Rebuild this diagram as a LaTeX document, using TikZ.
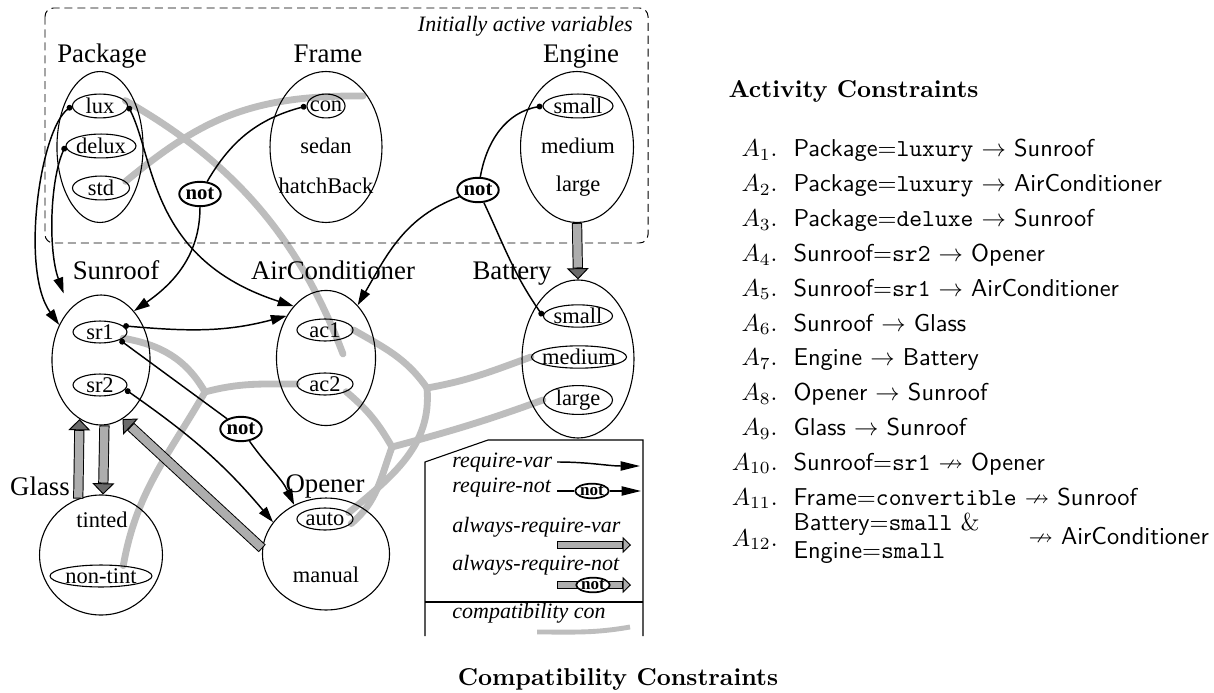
\documentclass[tikz,border=0pt]{standalone}
\usepackage{amssymb}
\usepackage{fontspec}
\newfontfamily\tms{Liberation Serif}
\usetikzlibrary{shapes.geometric,arrows.meta}

\definecolor{compatgray}{gray}{0.74}
\definecolor{shaftgray}{gray}{0.68}
\definecolor{headgray}{gray}{0.42}

\pgfdeclarelayer{paper}
\pgfdeclarelayer{under}
\pgfsetlayers{paper,under,main}

\tikzset{
  var/.style={draw, ellipse, line width=0.45pt, inner sep=0pt},
  val/.style={draw, ellipse, line width=0.45pt, inner xsep=-1.5pt, inner ysep=0pt,
    minimum height=9pt, font=\tms\fontsize{9.2}{10}\selectfont},
  plainval/.style={inner sep=0pt, font=\tms\fontsize{9.2}{10}\selectfont},
  varname/.style={anchor=base, inner sep=0pt, font=\tms\fontsize{11}{12}\selectfont},
  notnode/.style={draw, ellipse, line width=0.8pt, inner sep=0pt, fill=white,
    minimum width=17pt, minimum height=10pt, font=\tms\bfseries\fontsize{8.5}{9}\selectfont},
  lnot/.style={notnode, line width=0.7pt, minimum width=13.5pt, minimum height=6pt,
    font=\tms\bfseries\fontsize{7}{8}\selectfont},
  legend/.style={anchor=base west, inner sep=0pt, font=\tms\itshape\fontsize{9}{10}\selectfont},
  constr/.style={anchor=base west, inner sep=0pt, font=\sffamily},
  constrno/.style={anchor=base east, inner sep=0pt},
  % require-var connectors
  reqvar/.style={line width=0.6pt, {Circle[length=2.4pt]}-{Triangle[length=6.5pt,width=4pt]}},
  reqin/.style={line width=0.6pt, {Circle[length=2.4pt]}-},
  reqout/.style={line width=0.6pt, -{Triangle[length=6.5pt,width=4pt]}},
  lgarrow/.style={line width=0.6pt, -{Triangle[length=8pt,width=3.8pt]}},
  % compatibility constraints
  compat/.style={draw=compatgray, line width=2.8pt, line cap=round},
  % always-require arrows
  fatback/.style={draw=black, line width=4.2pt,
    -{Triangle[length=4.6pt,width=9pt,fill=headgray,line width=0.4pt]}},
  fatfill/.style={draw=shaftgray, line width=3.4pt, shorten >=4.9pt, shorten <=0.4pt},
  smallback/.style={draw=black, line width=3pt,
    -{Triangle[length=3.4pt,width=6.6pt,fill=shaftgray,line width=0.4pt]}},
  smallfill/.style={draw=shaftgray, line width=2.2pt, shorten >=3.7pt, shorten <=0.4pt},
}

\newcommand{\fatline}[3][fat]{%
  \draw[#1back] (#2) -- (#3);
  \draw[#1fill] (#2) -- (#3);
}

\begin{document}
\begin{tikzpicture}[x=0.41pt, y=-0.41pt]
  \begin{pgfonlayer}{paper}
    \path[fill=white] (0,0) rectangle (1214,692);
  \end{pgfonlayer}

  % initially active variables
  \draw[dash pattern=on 3.3pt off 2pt, line width=0.4pt, rounded corners=3.5pt]
    (45,8) rectangle (648,243);
  \node[legend, anchor=base east] (initial) at (633,32) {Initially active variables};

  % variables
  \node[varname] (packagelbl) at (102,63) {Package};
  \node[var, minimum width=35.3pt, minimum height=61.9pt] (package) at (100,147) {};
  \node[val, minimum width=22.6pt, minimum height=9.8pt] (lux) at (100,106) {lux};
  \node[val, minimum width=28.7pt, minimum height=9.8pt] (delux) at (101,146) {delux};
  \node[val, minimum width=23.4pt, minimum height=9.8pt] (std) at (101,188) {std};

  \node[varname] (framelbl) at (328,63) {Frame};
  \node[var, minimum width=45.9pt, minimum height=61.9pt] (frame) at (326,147) {};
  \node[val, minimum width=15.6pt, minimum height=9.8pt] (con) at (326,106) {con};
  \node[plainval] (sedan) at (326,146) {sedan};
  \node[plainval] (hatchback) at (326,186) {hatchBack};

  \node[varname] (enginelbl) at (581,63) {Engine};
  \node[var, minimum width=46.3pt, minimum height=61.9pt] (engine) at (577,147) {};
  \node[val, minimum width=28.7pt, minimum height=9.8pt] (esmall) at (578,106) {small};
  \node[plainval] (emedium) at (578,146) {medium};
  \node[plainval] (elarge) at (578,186) {large};

  \node[varname] (sunrooflbl) at (116,280) {Sunroof};
  \node[var, minimum width=40.2pt, minimum height=53.3pt] (sunroof) at (101,360) {};
  \node[val, minimum width=22.1pt] (sr1) at (100,332) {sr1};
  \node[val, minimum width=22.1pt] (sr2) at (100,385) {sr2};

  \node[varname] (aircondlbl) at (333,280) {AirConditioner};
  \node[var, minimum width=40.6pt, minimum height=55.4pt] (aircond) at (326,358) {};
  \node[val, minimum width=23pt] (ac1) at (325,330) {ac1};
  \node[val, minimum width=23pt] (ac2) at (325,384) {ac2};

  \node[varname] (batterylbl) at (512,280) {Battery};
  \node[var, minimum width=45.9pt, minimum height=64.8pt] (battery) at (578,359) {};
  \node[val, minimum width=28.3pt] (bsmall) at (578,316) {small};
  \node[val, minimum width=39pt] (bmedium) at (579,357) {medium};
  \node[val, minimum width=28.3pt] (blarge) at (578,400) {large};

  \node[varname] (glasslbl) at (40,495) {Glass};
  \node[var, minimum width=50.4pt, minimum height=49.2pt] (glass) at (101,555) {};
  \node[plainval] (tinted) at (102,520) {tinted};
  \node[val, minimum width=41.8pt] (nontint) at (101,576) {non-tint};

  \node[varname] (openerlbl) at (325,492) {Opener};
  \node[var, minimum width=52.1pt, minimum height=45.9pt] (opener) at (326,554) {};
  \node[val, minimum width=23pt] (auto) at (325,519) {auto};
  \node[plainval] (manual) at (326,575) {manual};

  % not nodes
  \node[notnode] (not1) at (200,194) {not};
  \node[notnode] (not2) at (478,190) {not};
  \node[notnode] (not3) at (241,429) {not};

  % require-var
  \draw[reqvar] (lux.180) .. controls (40,130) and (20,270) .. (sunroof.140);
  \draw[reqvar, shorten >=7pt] (delux.180) .. controls (50,180) and (48,250) .. (sunroof.122);
  \draw[reqvar] (lux.0) .. controls (155,160) and (150,260) .. (aircond.122);
  \draw[reqvar] (sr1.15) to[out=-5,in=195] (aircond.133);
  \draw[reqvar] (sr2.350) to[out=-35,in=130] (opener.149);

  % require-not
  \draw[reqin] (con.180) to[out=195,in=60] (not1);
  \draw[reqout] (not1) to[out=270,in=35] (sunroof.56);
  \draw[reqin] (esmall.180) to[out=190,in=80] (not2);
  \draw[reqin] (bsmall.180) to[out=125,in=295] (not2);
  \draw[reqout] (not2) to[out=200,in=60] (aircond.59);
  \draw[reqin] (sr1.338) -- (not3);
  \draw[reqout] (not3) to[out=-55,in=115] (opener.123);

  % always-require-var
  \fatline{engine.south}{battery.north}
  \fatline{glass.112}{sunroof.250}
  \fatline{sunroof.273}{glass.88}
  \fatline{opener.175}{sunroof.290}

  % compatibility, kept under the nodes
  \coordinate (luxend) at (343,354);
  \coordinate (stdend) at (363,96);
  \coordinate (j0) at (205,392);
  \coordinate (j1) at (427,388);
  \coordinate (j2) at (392,447);
  \begin{pgfonlayer}{under}
    \draw[compat] (lux.12) .. controls (230,160) and (298,235) .. (luxend);
    \draw[compat] (std.15) .. controls (200,120) and (250,95) .. (stdend);
    \draw[compat] (sr1.345) to[out=-10,in=120] (j0);
    \draw[compat] (ac2.180) to[out=180,in=15] (j0);
    \draw[compat] (j0) to[out=240,in=80] (nontint.25);
    \draw[compat] (ac1.0) to[out=-30,in=125] (j1);
    \draw[compat] (bmedium.180) to[out=200,in=10] (j1);
    \draw[compat] (j1) to[out=-85,in=40] (auto.15);
    \draw[compat] (ac2.-20) to[out=-40,in=120] (j2);
    \draw[compat] (blarge.180) to[out=200,in=15] (j2);
    \draw[compat] (j2) to[out=-110,in=40] (auto.-10);
  \end{pgfonlayer}

  % legend
  \draw[line width=0.45pt] (425,636) -- (425,462) -- (488,440) -- (643,440) -- (643,636);
  \draw[line width=0.45pt] (425,602) -- (643,602);
  \node[legend] (lreqvar) at (452,467) {require-var};
  \node[legend] (lreqnot) at (452,492) {require-not};
  \node[legend] (lalvar) at (452,532) {always-require-var};
  \node[legend] (lalnot) at (452,570) {always-require-not};
  \node[legend] (lcompat) at (452,618) {compatibility con};
  \coordinate (rv1) at (557,462);
  \coordinate (rv2) at (640,466);
  \draw[lgarrow] (rv1) to[out=0,in=180] (rv2);
  \node[lnot] (lnot1) at (592,491) {not};
  \coordinate (rn1) at (557,491);
  \coordinate (rn2) at (641,491);
  \draw[line width=0.6pt] (rn1) -- (lnot1);
  \draw[lgarrow] (lnot1) -- (rn2);
  \coordinate (av1) at (557,545);
  \coordinate (av2) at (631,545);
  \fatline[small]{av1}{av2}
  \coordinate (an1) at (557,585);
  \coordinate (an2) at (631,585);
  \fatline[small]{an1}{an2}
  \node[lnot] (lnot2) at (593,585) {not};
  \coordinate (cc1) at (537,632);
  \coordinate (cc2) at (630,627);
  \draw[compat, line width=2pt, line cap=butt] (cc1) to[out=0,in=190] (cc2);

  % constraint lists
  \node[anchor=base west, inner sep=0pt, font=\bfseries] (acthead) at (728,98) {Activity Constraints};
  \foreach \i in {1,...,11}
    \node[constrno] (a\i) at (778,{157+(\i-1)*34.8}) {$A_{\i}$.};
  \node[constr] (t1) at (793,157) {Package=\texttt{luxury} $\rightarrow$ Sunroof};
  \node[constr] (t2) at (793,191.8) {Package=\texttt{luxury} $\rightarrow$ AirConditioner};
  \node[constr] (t3) at (793,226.6) {Package=\texttt{deluxe} $\rightarrow$ Sunroof};
  \node[constr] (t4) at (793,261.4) {Sunroof=\texttt{sr2} $\rightarrow$ Opener};
  \node[constr] (t5) at (793,296.2) {Sunroof=\texttt{sr1} $\rightarrow$ AirConditioner};
  \node[constr] (t6) at (793,331) {Sunroof $\rightarrow$ Glass};
  \node[constr] (t7) at (793,365.8) {Engine $\rightarrow$ Battery};
  \node[constr] (t8) at (793,400.6) {Opener $\rightarrow$ Sunroof};
  \node[constr] (t9) at (793,435.4) {Glass $\rightarrow$ Sunroof};
  \node[constr] (t10) at (793,470.2) {Sunroof=\texttt{sr1} $\nrightarrow$ Opener};
  \node[constr] (t11) at (793,505) {Frame=\texttt{convertible} $\nrightarrow$ Sunroof};
  \node[constrno] (a12) at (778,546) {$A_{12}$.};
  \node[constr] (t12a) at (793,530) {Battery=\texttt{small} \textrm{\&}};
  \node[constr] (t12b) at (793,558) {Engine=\texttt{small}};
  \node[constr] (t12c) at (1028,544) {$\nrightarrow$ AirConditioner};

  \node[anchor=base, inner sep=0pt, font=\bfseries] (comphead) at (618,685) {Compatibility Constraints};
\end{tikzpicture}
\end{document}
